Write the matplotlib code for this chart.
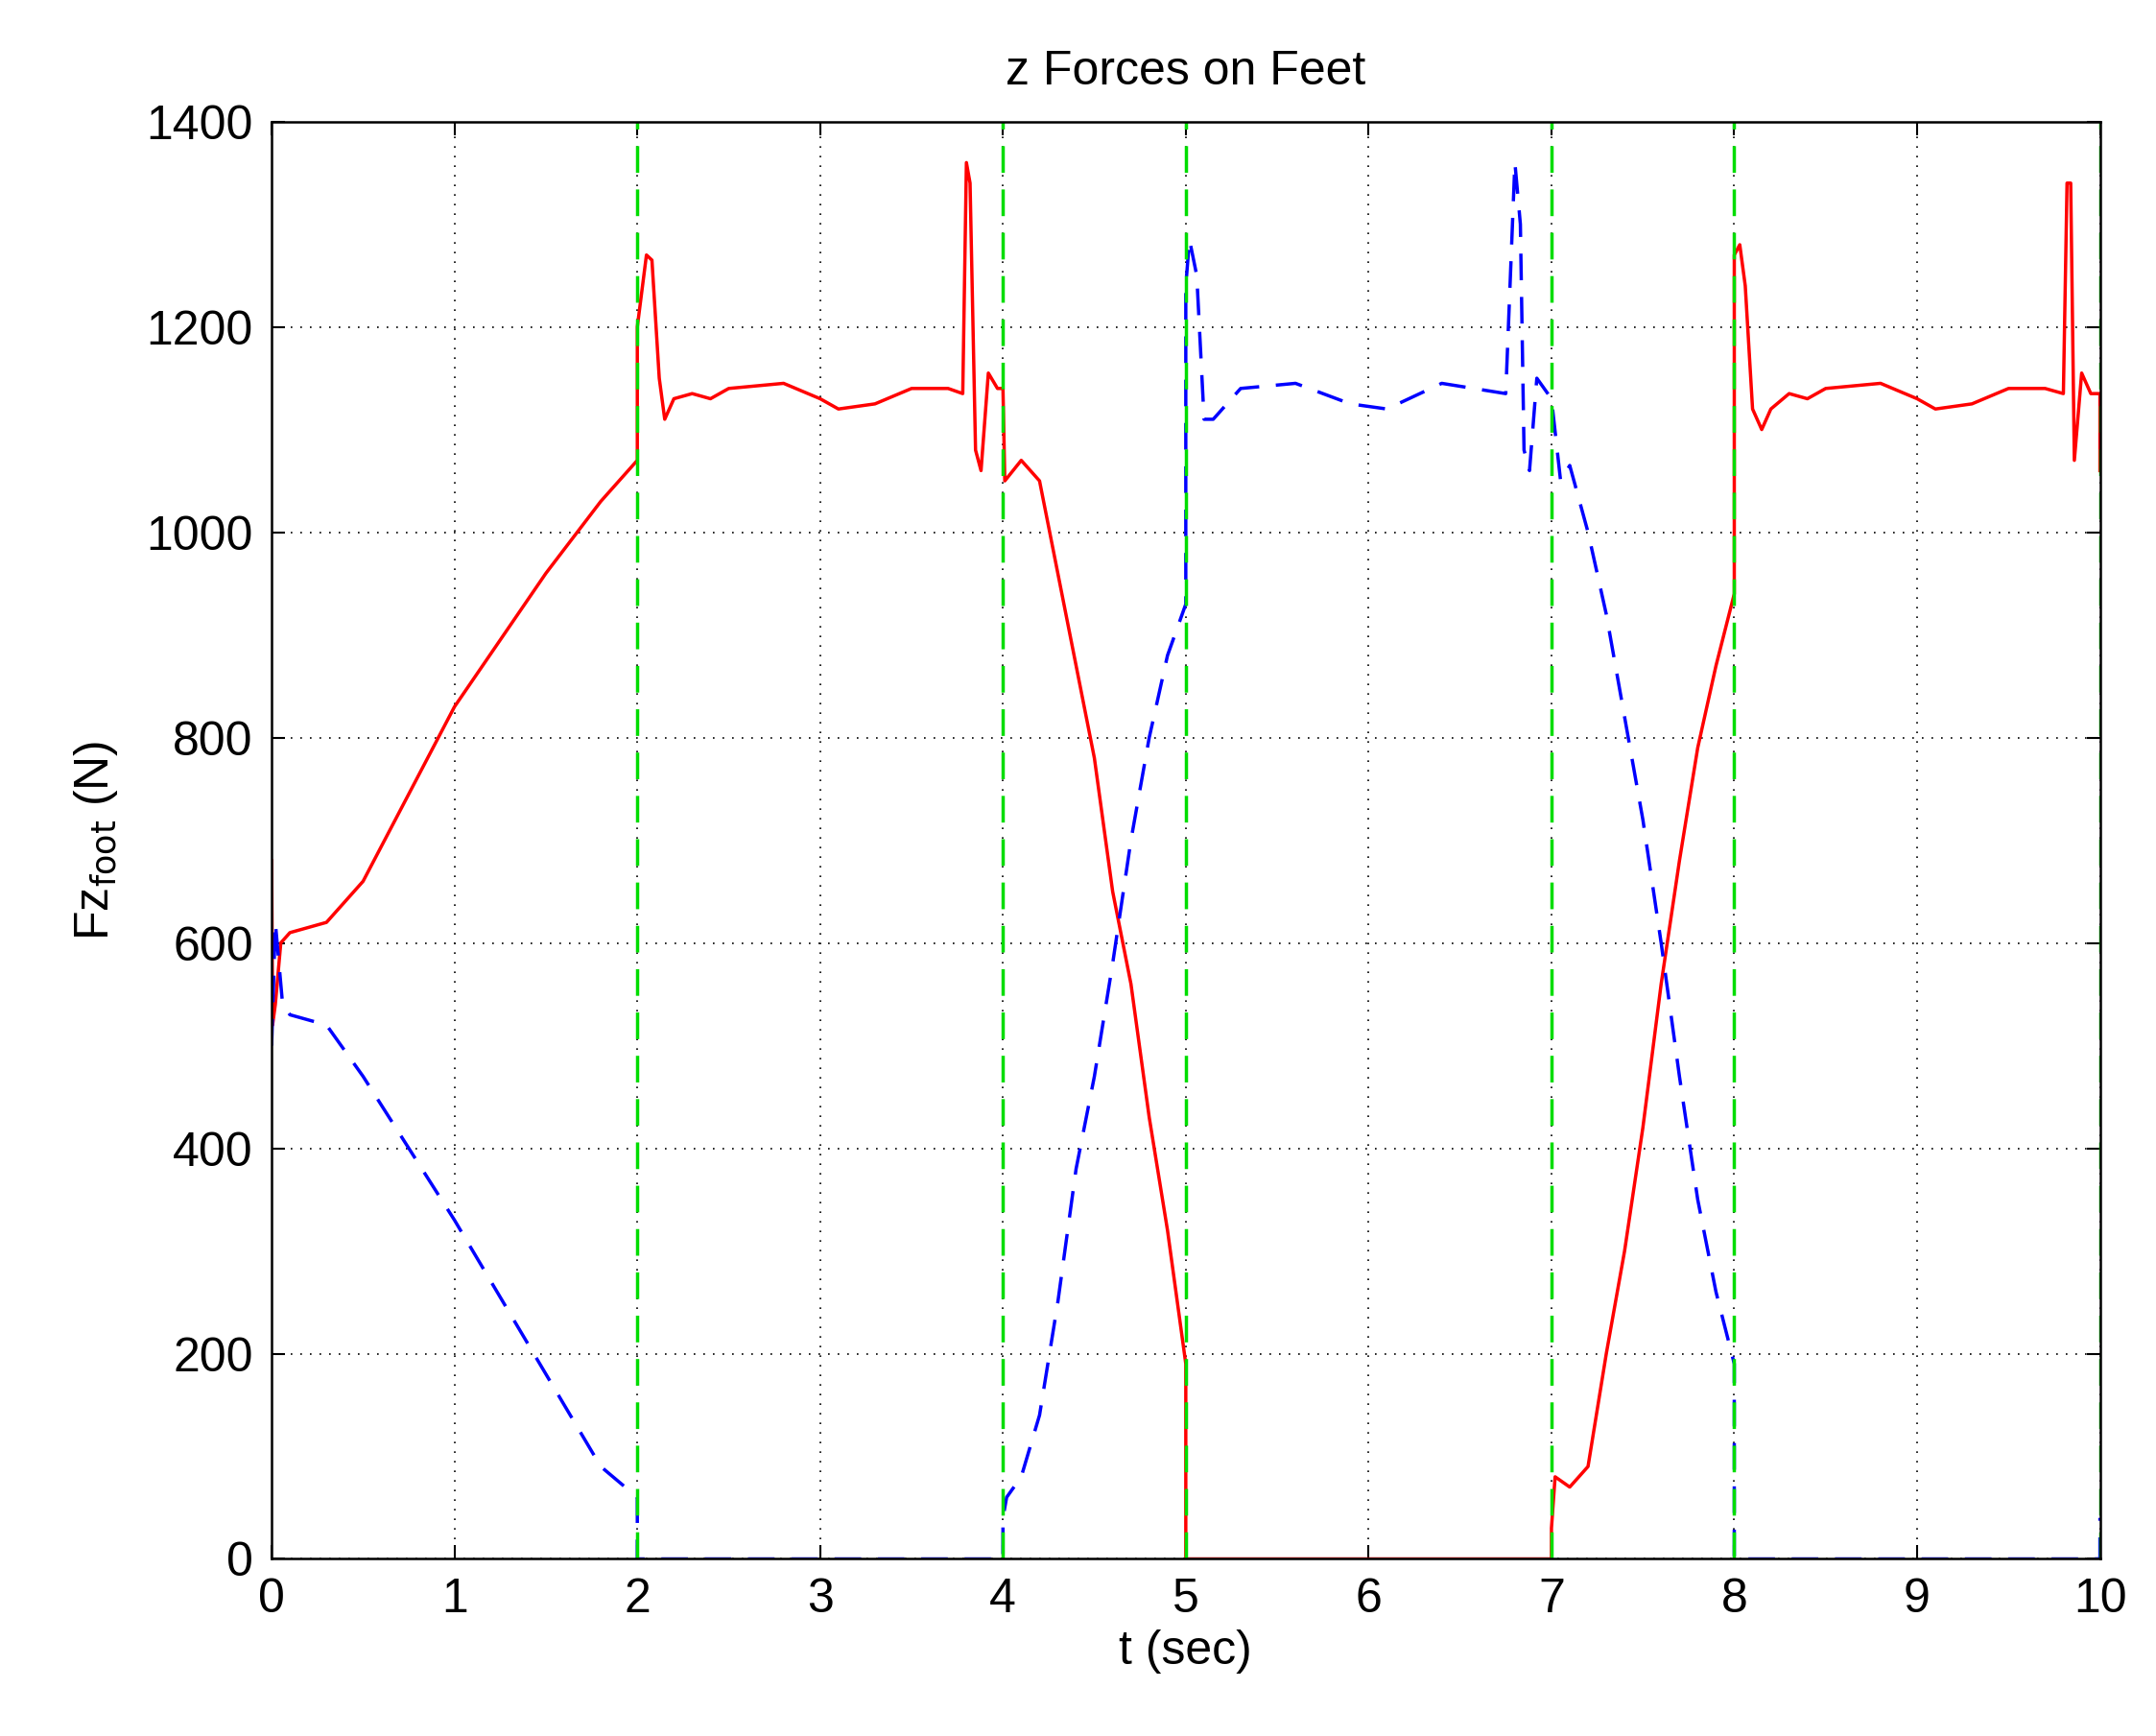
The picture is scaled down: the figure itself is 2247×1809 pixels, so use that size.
import matplotlib
matplotlib.use("Agg")
import matplotlib.pyplot as plt

plt.rcParams['font.family'] = ['Liberation Sans', 'DejaVu Sans']

red_t = [0, 0.005, 0.02, 0.05, 0.1, 0.3, 0.5, 1.0, 1.5, 1.8, 2.0, 2.0, 2.05, 2.08, 2.12, 2.15, 2.2, 2.3, 2.4, 2.5, 2.8, 3.0, 3.1, 3.3, 3.5, 3.7, 3.78, 3.8, 3.82, 3.85, 3.88, 3.92, 3.97, 4.0, 4.01, 4.1, 4.2, 4.3, 4.4, 4.5, 4.6, 4.7, 4.8, 4.9, 5.0, 5.0,
         7.0, 7.0, 7.02, 7.1, 7.2, 7.3, 7.4, 7.5, 7.6, 7.7, 7.8, 7.9, 8.0, 8.0, 8.03, 8.06, 8.1, 8.15, 8.2, 8.3, 8.4, 8.5, 8.8, 9.0, 9.1, 9.3, 9.5, 9.7, 9.8, 9.82, 9.84, 9.86, 9.9, 9.95, 10.0, 10.0]
red_v = [680, 520, 540, 600, 610, 620, 660, 830, 960, 1030, 1070, 1200, 1270, 1265, 1150, 1110, 1130, 1135, 1130, 1140, 1145, 1130, 1120, 1125, 1140, 1140, 1135, 1360, 1340, 1080, 1060, 1155, 1140, 1140, 1050, 1070, 1050, 960, 870, 780, 650, 560, 430, 320, 190, 0,
         0, 30, 80, 70, 90, 200, 300, 420, 560, 680, 790, 870, 940, 1270, 1280, 1240, 1120, 1100, 1120, 1135, 1130, 1140, 1145, 1130, 1120, 1125, 1140, 1140, 1135, 1340, 1340, 1070, 1155, 1135, 1135, 1060]

blue_t = [0, 0.02, 0.06, 0.1, 0.3, 0.5, 1.0, 1.5, 1.8, 2.0, 2.0, 4.0, 4.0, 4.02, 4.1, 4.2, 4.3, 4.4, 4.5, 4.6, 4.7, 4.8, 4.9, 5.0, 5.0, 5.02, 5.06, 5.1, 5.15, 5.3, 5.6, 5.9, 6.1, 6.4, 6.75, 6.8, 6.83, 6.85, 6.88, 6.92, 7.0, 7.05, 7.1, 7.2, 7.3, 7.4, 7.5, 7.6, 7.7, 7.8, 7.9, 8.0, 8.0, 10.0, 10.0]
blue_v = [500, 620, 540, 530, 520, 470, 330, 180, 90, 60, 0, 0, 40, 60, 80, 140, 250, 380, 470, 580, 700, 800, 880, 930, 1240, 1285, 1250, 1110, 1110, 1140, 1145, 1125, 1120, 1145, 1135, 1360, 1300, 1080, 1060, 1150, 1130, 1050, 1065, 1000, 920, 820, 720, 600, 470, 350, 260, 190, 0, 0, 40]

vlines = [2, 4, 5, 7, 8, 10]

fig = plt.figure(figsize=(22.47, 18.09), dpi=100)
ax = fig.add_axes([0.126, 0.102, 0.848, 0.828])
ax.plot(red_t, red_v, color='red', lw=2.5)
ax.plot(blue_t, blue_v, color='blue', lw=2.5, ls=(0, (8, 5)))
for x in vlines:
    ax.axvline(x, color='#00dd00', lw=2.5, ls=(0, (8, 5)))
ax.set_xlim(0, 10)
ax.set_ylim(0, 1400)
ax.set_xticks(range(0, 11))
ax.set_yticks(range(0, 1401, 200))
ax.grid(True, color='black', ls=(0, (1, 5)), lw=1.2)
ax.tick_params(labelsize=36, direction='in', length=10, width=1.5, top=True, right=True, pad=14)
for s in ax.spines.values():
    s.set_linewidth(1.8)
ax.set_xlabel('t (sec)', fontsize=36, labelpad=6)
ax.set_ylabel(r'Fz$_{\mathrm{foot}}$ (N)', fontsize=36, labelpad=20)
ax.set_title('z Forces on Feet', fontsize=36, pad=28)
fig.savefig('out.png')
